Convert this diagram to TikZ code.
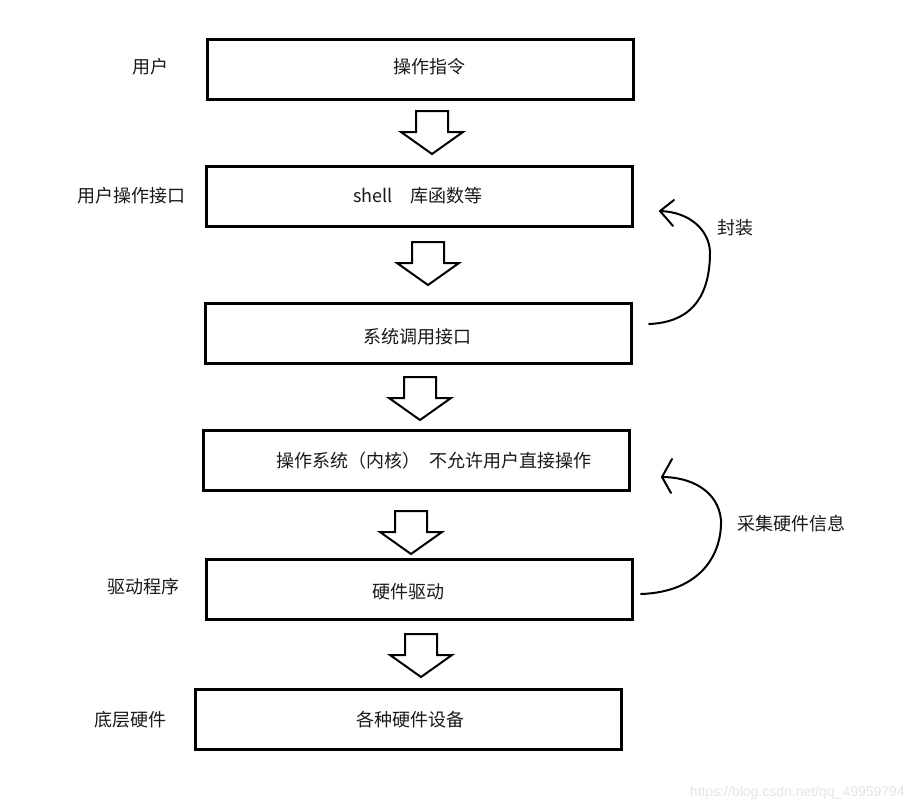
\documentclass[tikz,border=0pt]{standalone}
\usepackage{fontspec}
\setmainfont{Noto Sans CJK SC}
\newfontfamily\wmfont{Liberation Sans}
\begin{document}
\begin{tikzpicture}[x=1pt,y=-1pt,
  layerbox/.style={draw=black,line width=3pt,minimum width=426pt,minimum height=60pt,inner sep=0pt},
  txt/.style={font=\fontsize{18}{20}\selectfont,inner sep=0pt,text=black!90},
  curvy/.style={line width=2pt,line cap=round,line join=round},
  barrow/.pic={\draw[line width=2pt,line join=miter,fill=white] (-16,0) -- (16,0) -- (16,21) -- (31,21) -- (0,43) -- (-31,21) -- (-16,21) -- cycle;}
]
\useasboundingbox (0,0) rectangle (915,811);
\fill[white] (0,0) rectangle (915,811);

% layer boxes
\node[layerbox] (b1) at (420,69) {};
\node[layerbox] (b2) at (419,196) {};
\node[layerbox] (b3) at (418,333) {};
\node[layerbox] (b4) at (416,460) {};
\node[layerbox] (b5) at (419,589) {};
\node[layerbox] (b6) at (408,719) {};

% box texts
\node[txt] (t1) at (429,67) {操作指令};
\node[txt] (t2) at (418,196) {shell\hspace{1em}库函数等};
\node[txt] (t3) at (417,337) {系统调用接口};
\node[txt] (t4) at (434,461) {操作系统（内核）\hspace{0.45em}不允许用户直接操作};
\node[txt] (t5) at (408,592) {硬件驱动};
\node[txt] (t6) at (410,720) {各种硬件设备};

% side labels
\node[txt] (l1) at (150,67) {用户};
\node[txt] (l2) at (131,196) {用户操作接口};
\node[txt] (l3) at (143,587) {驱动程序};
\node[txt] (l4) at (130,720) {底层硬件};
\node[txt] (l5) at (735,228) {封装};
\node[txt] (l6) at (791,524) {采集硬件信息};

% block arrows
\pic at (432,111) {barrow};
\pic at (428,242) {barrow};
\pic at (420,377) {barrow};
\pic at (411,511) {barrow};
\pic at (421,634) {barrow};

% curved arrow 1 (封装)
\coordinate (c1s) at (649,324);
\coordinate (c1t) at (660,211);
\draw[curvy] (c1s) .. controls (700,322) and (710,285) .. (710,252)
  .. controls (709,230) and (690,212) .. (c1t);
\draw[curvy] (c1t) -- (674,200);
\draw[curvy] (c1t) -- (673,226);

% curved arrow 2 (采集硬件信息)
\coordinate (c2s) at (641,594);
\coordinate (c2t) at (662,477);
\draw[curvy] (c2s) .. controls (700,592) and (722,555) .. (721,520)
  .. controls (718,490) and (690,477) .. (c2t);
\draw[curvy] (c2t) -- (672,459);
\draw[curvy] (c2t) -- (671,493);

% watermark
\node[font=\wmfont\fontsize{14}{16}\selectfont,text=black!10,anchor=east,inner sep=0pt] (wm) at (905,793) {https://blog.csdn.net/qq\_49959794};
\end{tikzpicture}
\end{document}
